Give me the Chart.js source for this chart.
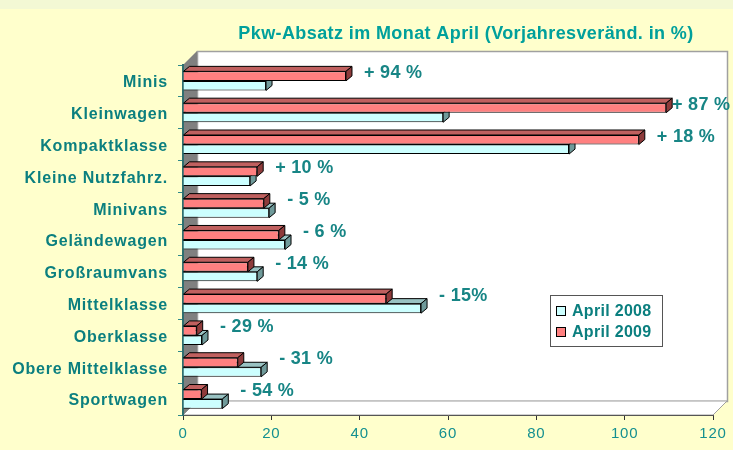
<!DOCTYPE html>
<html>
<head>
<meta charset="utf-8">
<script src="https://cdn.jsdelivr.net/npm/chart.js@4"></script>
<style>
  body { margin: 0; background: #FFFFCC; }
  canvas { display: block; }
</style>
</head>
<body>
<canvas id="myChart" width="733" height="450"></canvas>
<script>
var categories = ["Minis", "Kleinwagen", "Kompaktklasse", "Kleine Nutzfahrz.", "Minivans", "Geländewagen",
  "Großraumvans", "Mittelklasse", "Oberklasse", "Obere Mittelklasse", "Sportwagen"];
var april2008 = [18.8, 58.9, 87.4, 15.2, 19.5, 23.1, 16.8, 53.9, 4.3, 17.7, 8.9];
var april2009 = [36.9, 109.4, 103.2, 16.8, 18.3, 21.7, 14.7, 46.0, 3.1, 12.4, 4.2];
var changeLabels = ["+ 94 %", "+ 87 %", "+ 18 %", "+ 10 %", "- 5 %", "- 6 %",
  "- 14 %", "- 15%", "- 29 %", "- 31 %", "- 54 %"];
var xMin = 0, xMax = 120, xStep = 20;

var titleText = "Pkw-Absatz im Monat April (Vorjahresveränd. in %)";
var teal = "#0B7F7F";
var depth = 14;   // wall depth
var bdx = 6, bdy = 5; // bar depth

// colours for front / top / side of each series
var faceColors = [
  { front: "#FF8080", top: "#C0605F", side: "#8E3B3B" },  // April 2009
  { front: "#CCFFFF", top: "#99C2C2", side: "#6F9A9A" }   // April 2008
];

function poly(ctx, pts, fill, stroke) {
  ctx.beginPath();
  ctx.moveTo(pts[0][0], pts[0][1]);
  for (var i = 1; i < pts.length; i++) ctx.lineTo(pts[i][0], pts[i][1]);
  ctx.closePath();
  if (fill) { ctx.fillStyle = fill; ctx.fill(); }
  if (stroke) { ctx.strokeStyle = stroke; ctx.lineWidth = 1; ctx.stroke(); }
}

// background, title and 3d walls
var wallsPlugin = {
  id: "walls",
  beforeDraw: function (chart) {
    var ctx = chart.ctx, a = chart.chartArea;
    ctx.save();
    ctx.fillStyle = "#FFFFCC";
    ctx.fillRect(0, 0, chart.width, chart.height);
    ctx.fillStyle = "#F3F8D4";
    ctx.fillRect(0, 0, chart.width, 9);

    // back wall
    ctx.fillStyle = "#FFFFFF";
    ctx.fillRect(a.left + depth, a.top - depth, a.right - a.left, a.bottom - a.top);
    ctx.strokeStyle = "#A0A0A0";
    ctx.lineWidth = 1.5;
    ctx.strokeRect(a.left + depth + 0.5, a.top - depth + 0.5, a.right - a.left, a.bottom - a.top);
    // floor
    poly(ctx, [[a.left, a.bottom], [a.right, a.bottom], [a.right + depth, a.bottom - depth],
      [a.left + depth, a.bottom - depth]], "#FFFFFF", "#A0A0A0");
    // left wall
    poly(ctx, [[a.left, a.top], [a.left + depth, a.top - depth], [a.left + depth, a.bottom - depth],
      [a.left, a.bottom]], "#808080", null);

    // title
    ctx.fillStyle = "#00A09C";
    ctx.font = "bold 18px 'Liberation Sans', Arial, sans-serif";
    ctx.letterSpacing = "0.4px";
    ctx.textAlign = "center";
    ctx.textBaseline = "middle";
    ctx.fillText(titleText, 466, 34);
    ctx.restore();
    // the excel labels are spaced a bit wider
    ctx.letterSpacing = "0.8px";
  }
};

// top and right faces of the bars, drawn behind the fronts
var barFacesPlugin = {
  id: "barFaces",
  beforeDatasetsDraw: function (chart) {
    var ctx = chart.ctx;
    ctx.letterSpacing = "0px";
    ctx.save();
    for (var d = chart.data.datasets.length - 1; d >= 0; d--) {
      var meta = chart.getDatasetMeta(d);
      var c = faceColors[d];
      meta.data.forEach(function (bar) {
        var p = bar.getProps(["x", "y", "base", "height"], true);
        var top = p.y - p.height / 2, bottom = p.y + p.height / 2;
        poly(ctx, [[p.base, top], [p.x, top], [p.x + bdx, top - bdy], [p.base + bdx, top - bdy]], c.top, "#000");
        poly(ctx, [[p.x, top], [p.x + bdx, top - bdy], [p.x + bdx, bottom - bdy], [p.x, bottom]], c.side, "#000");
      });
    }
    ctx.restore();
  },
  afterDatasetsDraw: function (chart) {
    // change labels next to each category
    var ctx = chart.ctx, yScale = chart.scales.y;
    var m0 = chart.getDatasetMeta(0), m1 = chart.getDatasetMeta(1);
    ctx.save();
    ctx.font = "bold 18px 'Liberation Sans', Arial, sans-serif";
    ctx.letterSpacing = "0.3px";
    ctx.fillStyle = "#178585";
    ctx.textAlign = "left";
    ctx.textBaseline = "middle";
    changeLabels.forEach(function (txt, i) {
      var end = Math.max(m0.data[i].x, m1.data[i].x);
      var x = Math.min(end + 18, 672);
      var y = yScale.getPixelForValue(i) - 8;
      ctx.fillText(txt, x, y);
    });
    ctx.restore();
  }
};

// legend box inside the plot
var legendPlugin = {
  id: "boxLegend",
  afterDraw: function (chart) {
    var ctx = chart.ctx, a = chart.chartArea;
    var left = a.right - 163, top = a.top + 230;
    ctx.save();
    ctx.fillStyle = "#FFFFFF";
    ctx.fillRect(left, top, 112, 51);
    ctx.strokeStyle = "#555555";
    ctx.lineWidth = 1;
    ctx.strokeRect(left + 0.5, top + 0.5, 112, 51);
    ctx.font = "bold 16px 'Liberation Sans', Arial, sans-serif";
    ctx.letterSpacing = "0.3px";
    ctx.textAlign = "left";
    ctx.textBaseline = "middle";
    [1, 0].forEach(function (d, k) {
      var ds = chart.data.datasets[d];
      var cy = top + 16 + k * 21;
      ctx.fillStyle = ds.backgroundColor;
      ctx.fillRect(left + 6.5, cy - 4.5, 9, 9);
      ctx.strokeStyle = "#000";
      ctx.strokeRect(left + 6.5, cy - 4.5, 9, 9);
      ctx.fillStyle = teal;
      ctx.fillText(ds.label, left + 22, cy + 1);
    });
    ctx.restore();
  }
};

new Chart("myChart", {
  type: "bar",
  data: {
    labels: categories,
    datasets: [{
      label: "April 2009",
      data: april2009,
      backgroundColor: faceColors[0].front,
      borderColor: "#000",
      borderWidth: 1
    }, {
      label: "April 2008",
      data: april2008,
      backgroundColor: faceColors[1].front,
      borderColor: "#000",
      borderWidth: 1
    }]
  },
  options: {
    indexAxis: "y",
    responsive: false,
    animation: false,
    layout: { padding: { top: 65, right: 20, bottom: 0, left: 0 } },
    categoryPercentage: 0.6,
    barPercentage: 1.0,
    plugins: {
      legend: { display: false },
      title: { display: false },
      tooltip: { enabled: false }
    },
    scales: {
      x: {
        min: xMin,
        max: xMax,
        afterFit: function (s) { s.height = 35; },
        ticks: {
          stepSize: xStep,
          padding: 5,
          color: "#149090",
          font: { family: "'Liberation Sans', Arial, sans-serif", size: 15 }
        },
        grid: { drawOnChartArea: false, tickLength: 5, color: "#333" },
        border: { color: "#555", width: 1 }
      },
      y: {
        afterFit: function (s) { s.width = 183; },
        ticks: {
          padding: 10,
          labelOffset: 2,
          color: teal,
          font: { family: "'Liberation Sans', Arial, sans-serif", size: 16, weight: "bold" }
        },
        grid: { drawOnChartArea: false, tickLength: 5, color: "#2E8A8A", offset: true },
        border: { color: "#2F6F6F", width: 2 }
      }
    }
  },
  plugins: [wallsPlugin, barFacesPlugin, legendPlugin]
});
</script>
</body>
</html>
